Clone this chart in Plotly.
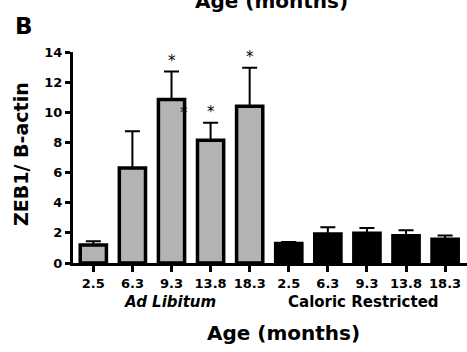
import plotly.graph_objects as go

ages = ["2.5", "6.3", "9.3", "13.8", "18.3"]
al_mean = [1.2, 6.3, 10.85, 8.15, 10.4]
al_err = [0.25, 2.45, 1.85, 1.15, 2.55]
cr_mean = [1.3, 1.92, 1.97, 1.8, 1.57]
cr_err = [0.1, 0.45, 0.35, 0.38, 0.25]
al_sig = [False, False, True, True, True]
group_labels = ["Ad Libitum", "Caloric Restricted"]
y_ticks = [0, 2, 4, 6, 8, 10, 12, 14]

FONT = "DejaVu Sans, sans-serif"
n = len(ages)
x_al = list(range(n))
x_cr = list(range(n, 2 * n))

fig = go.Figure()
fig.add_trace(go.Bar(
    x=x_al, y=al_mean, width=0.67,
    marker=dict(color="#b3b3b3", line=dict(color="black", width=3.5)),
    error_y=dict(type="data", symmetric=False, array=al_err, arrayminus=[0] * n,
                 color="black", thickness=2, width=7.5),
    showlegend=False,
))
fig.add_trace(go.Bar(
    x=x_cr, y=cr_mean, width=0.67,
    marker=dict(color="black", line=dict(color="black", width=3.5)),
    error_y=dict(type="data", symmetric=False, array=cr_err, arrayminus=[0] * n,
                 color="black", thickness=2, width=7.5),
    showlegend=False,
))

ann = []
for i in range(n):
    if al_sig[i]:
        ann.append(dict(x=x_al[i], y=al_mean[i] + al_err[i], text="*", showarrow=False,
                        yanchor="middle", yshift=11, font=dict(family=FONT, size=15, color="black")))
# stray asterisk next to the 9.3 bar
ann.append(dict(x=2.33, y=10.13, text="*", showarrow=False, yanchor="middle", yshift=-3,
                font=dict(family=FONT, size=15, color="black")))

ann.append(dict(x=(n - 1) / 2 - 0.05, y=-0.185, xref="x", yref="paper",
                text="<b><i>" + group_labels[0] + "</i></b>", yanchor="middle",
                showarrow=False, font=dict(family=FONT, size=15, color="black")))
ann.append(dict(x=n + (n - 1) / 2 - 0.1, y=-0.185, xref="x", yref="paper",
                text="<b>" + group_labels[1] + "</b>", yanchor="middle",
                showarrow=False, font=dict(family=FONT, size=15, color="black")))
ann.append(dict(x=0.534, y=-0.332, xref="paper", yref="paper", text="<b>Age (months)</b>",
                yanchor="middle", showarrow=False, font=dict(family=FONT, size=20, color="black")))
ann.append(dict(x=0.503, y=1.242, xref="paper", yref="paper", text="<b>Age (months)</b>",
                showarrow=False, yanchor="middle", font=dict(family=FONT, size=20, color="black")))
ann.append(dict(x=-0.124, y=1.125, xref="paper", yref="paper", text="<b>B</b>", xanchor="center",
                showarrow=False, yanchor="middle", font=dict(family=FONT, size=23, color="black")))
ann.append(dict(x=-0.132, y=0.517, xref="paper", yref="paper", text="<b>ZEB1/ B-actin</b>",
                textangle=-90, xanchor="center", yanchor="middle",
                showarrow=False, font=dict(family=FONT, size=19, color="black")))

fig.update_layout(
    width=467, height=352,
    margin=dict(l=73, r=0, t=52, b=89),
    paper_bgcolor="white", plot_bgcolor="white",
    font=dict(family=FONT, color="black"),
    annotations=ann,
    xaxis=dict(
        range=[-0.52, 2 * n - 0.44],
        tickmode="array", tickvals=x_al + x_cr,
        ticktext=["<b>%s</b>" % a for a in ages + ages],
        tickfont=dict(family=FONT, size=13, color="black"),
        ticks="outside", ticklen=6, tickwidth=2.5, tickcolor="black",
        showline=True, linecolor="black", linewidth=3,
        showgrid=False, zeroline=False,
    ),
    yaxis=dict(
        range=[0, 14], tickvals=y_ticks,
        ticktext=["<b>%d</b>" % v for v in y_ticks],
        tickfont=dict(family=FONT, size=13, color="black"),
        ticks="outside", ticklen=5, tickwidth=2.5, tickcolor="black",
        showline=True, linecolor="black", linewidth=3,
        showgrid=False, zeroline=False,
    ),
)

fig.write_html("out.html")
